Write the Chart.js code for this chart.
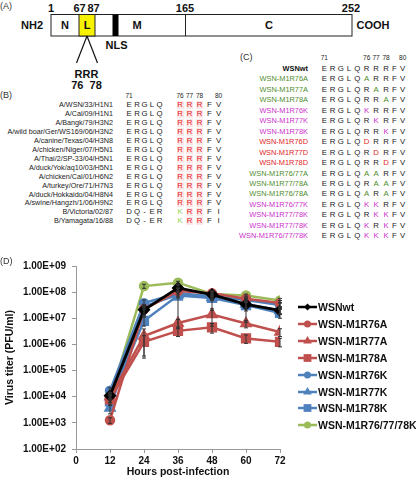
<!DOCTYPE html>
<html>
<head>
<meta charset="utf-8">
<script src="https://cdn.jsdelivr.net/npm/chart.js@4.4.1/dist/chart.umd.min.js"></script>
<style>
body { margin: 0; background: #fff; font-family: "Liberation Sans", Arial, sans-serif; }
#fig { position: relative; width: 416px; height: 478px; overflow: hidden; background: #fff; }
.t { position: absolute; white-space: pre; line-height: 12px; color: #111; }
#chartBox { position: absolute; left: 0; top: 248px; width: 416px; height: 230px; }
#diag { position: absolute; left: 0; top: 0; }
</style>
</head>
<body>
<div id="fig">
  <svg id="diag" width="416" height="100"></svg>
  <div id="chartBox"><canvas id="titer" width="416" height="230"></canvas></div>
</div>
<script>
// ---- panel B: M1 sequences of natural strains (residues 71-80)
const strainNames = ['A/WSN/33/H1N1', 'A/Cal/09/H1N1', 'A/Bangk/79/H3N2', 'A/wild boar/Ger/WS169/06/H3N2',
  'A/canine/Texas/04/H3N8', 'A/chicken/Niger/07/H5N1', 'A/Thai/2/SP-33/04/H5N1', 'A/duck/Yok/aq10/03/H5N1',
  'A/chicken/Cal/01/H6N2', 'A/turkey/Ore/71/H7N3', 'A/duck/Hokkaido/04/H8N4', 'A/swine/Hangzh/1/06/H9N2',
  'B/Victoria/02/87', 'B/Yamagata/16/88'];
const strainSeqs = ['ERGLQRRRFV', 'ERGLQRRRFV', 'ERGLQRRRFV', 'ERGLQRRRFV', 'ERGLQRRRFV', 'ERGLQRRRFV',
  'ERGLQRRRFV', 'ERGLQRRRFV', 'ERGLQRRRFV', 'ERGLQRRRFV', 'ERGLQRRRFV', 'ERGLQRRRFV', 'DQ-ERKRRFI', 'DQ-ERKRRFI'];

// ---- panel C: mutant viruses
const mutantNames = ['WSNwt', 'WSN-M1R76A', 'WSN-M1R77A', 'WSN-M1R78A', 'WSN-M1R76K', 'WSN-M1R77K', 'WSN-M1R78K',
  'WSN-M1R76D', 'WSN-M1R77D', 'WSN-M1R78D', 'WSN-M1R76/77A', 'WSN-M1R77/78A', 'WSN-M1R76/78A',
  'WSN-M1R76/77K', 'WSN-M1R77/78K', 'WSN-M1R77/78K', 'WSN-M1R76/77/78K'];
const mutantSeqs = ['ERGLQRRRFV', 'ERGLQARRFV', 'ERGLQRARFV', 'ERGLQRRAFV', 'ERGLQKRRFV', 'ERGLQRKRFV', 'ERGLQRRKFV',
  'ERGLQDRRFV', 'ERGLQRDRFV', 'ERGLQRRDFV', 'ERGLQAARFV', 'ERGLQRAAFV', 'ERGLQARAFV',
  'ERGLQKKRFV', 'ERGLQRKKFV', 'ERGLQKRKFV', 'ERGLQKKKFV'];

// ---- panel D: growth kinetics (PFU/ml)
const hours = [12, 24, 36, 48, 60, 72];
const seriesNames = ['WSNwt', 'WSN-M1R76A', 'WSN-M1R77A', 'WSN-M1R78A', 'WSN-M1R76K', 'WSN-M1R77K', 'WSN-M1R78K', 'WSN-M1R76/77/78K'];
const wsnWt   = [1.1e4, 2.1e7, 1.45e8, 8.1e7, 3.4e7, 2.0e7];
const r76a    = [1.26e3, 2.2e7, 1.1e8, 9.0e7, 5.6e7, 3.8e7];
const r77a    = [1.0e4, 2.1e6, 6.6e6, 1.4e7, 6.3e6, 3.0e6];
const r78a    = [8.0e3, 1.26e6, 3.3e6, 4.5e6, 1.7e6, 1.26e6];
const r76k    = [1.7e4, 3.8e7, 9.0e7, 7.0e7, 5.0e7, 3.2e7];
const r77k    = [3.7e3, 2.8e7, 8.0e7, 6.3e7, 3.5e7, 2.0e7];
const r78k    = [6.6e3, 8.0e6, 7.4e7, 6.0e7, 3.2e7, 1.6e7];
const r767778k = [9.0e3, 1.7e8, 2.3e8, 8.5e7, 7.4e7, 4.8e7];
// standard deviations
const wsnWtSd   = [3e3, 8e6, 4e7, 3e7, 1.5e7, 6e6];
const r76aSd    = [3e2, 1e7, 3e7, 2e7, 1.5e7, 1e7];
const r77aSd    = [4e3, 1.8e6, 2.4e6, 9e6, 2e6, 1e6];
const r78aSd    = [2e3, 9e5, 1.3e6, 1.8e6, 6e5, 4.5e5];
const r76kSd    = [5e3, 1.2e7, 2e7, 1.5e7, 1e7, 8e6];
const r77kSd    = [1.5e3, 6e6, 2e7, 1.5e7, 1e7, 5e6];
const r78kSd    = [2e3, 3e6, 7e7, 4e7, 2.5e7, 6e6];
const r767778kSd = [2e3, 3e7, 3e7, 2e7, 1e7, 1e7];
const yTickExps = [2, 3, 4, 5, 6, 7, 8, 9];

const titers = [wsnWt, r76a, r77a, r78a, r76k, r77k, r78k, r767778k];
const titerSds = [wsnWtSd, r76aSd, r77aSd, r78aSd, r76kSd, r77kSd, r78kSd, r767778kSd];

const red = '#c0504d', blue = '#4f81bd', green = '#9bbb59';
const lineColors = ['#000000', red, red, red, blue, blue, blue, green];
const shapes = ['rectRot', 'circle', 'triangle', 'rect', 'circle', 'triangle', 'rect', 'circle'];
const radii = { rectRot: 4.5, circle: 4, triangle: 5, rect: 5.5 };

const fig = document.getElementById('fig');
function txt(s, x, y, o) {
  o = o || {};
  const d = document.createElement('div');
  d.className = 't';
  d.textContent = s;
  d.style.left = x + 'px';
  d.style.top = y + 'px';
  d.style.fontSize = (o.size || 8) + 'px';
  if (o.bold) d.style.fontWeight = 'bold';
  if (o.color) d.style.color = o.color;
  const ax = o.align === 'r' ? '-100%' : (o.align === 'l' ? '0' : '-50%');
  d.style.transform = 'translate(' + ax + ',-50%)';
  fig.appendChild(d);
  return d;
}

// ---- panel A: domain diagram
const svg = document.getElementById('diag');
svg.innerHTML =
  '<rect x="51" y="14.5" width="301" height="21.5" fill="#fff" stroke="#222" stroke-width="1"/>' +
  '<rect x="79" y="14.5" width="16" height="21.5" fill="#f6f200" stroke="#222" stroke-width="1"/>' +
  '<rect x="112.5" y="14.5" width="6" height="21.5" fill="#000"/>' +
  '<line x1="185.5" y1="14.5" x2="185.5" y2="36" stroke="#222"/>' +
  '<line x1="87" y1="36" x2="76.5" y2="63" stroke="#111" stroke-width="1.2"/>' +
  '<line x1="87" y1="36" x2="97.5" y2="63" stroke="#111" stroke-width="1.2"/>';
txt('(A)', 0, 6, { size: 9, align: 'l', color: '#333' });
txt('1', 51, 8, { size: 11, bold: true });
txt('67', 79.5, 8, { size: 11, bold: true });
txt('87', 93.5, 8, { size: 11, bold: true });
txt('165', 185, 8, { size: 11, bold: true });
txt('252', 351, 8, { size: 11, bold: true });
txt('NH2', 32, 25, { size: 11, bold: true });
txt('N', 65, 25, { size: 11, bold: true });
txt('L', 87, 25, { size: 11, bold: true });
txt('M', 137, 25, { size: 11, bold: true });
txt('C', 269, 25, { size: 11, bold: true });
txt('COOH', 373, 25, { size: 11, bold: true });
txt('NLS', 116.5, 45, { size: 11, bold: true });
txt('RRR', 86.5, 74, { size: 11, bold: true });
txt('76  78', 86.5, 85, { size: 11, bold: true });

// ---- panel B
const bCols = [129, 137, 144.5, 152, 159.5, 180, 189.5, 199.5, 209.5, 218.5];
txt('(B)', 0, 95, { size: 9, align: 'l', color: '#333' });
txt('71', bCols[0], 96, { size: 6.5, color: '#222' });
txt('76', bCols[5], 96, { size: 6.5, color: '#222' });
txt('77', bCols[6], 96, { size: 6.5, color: '#222' });
txt('78', bCols[7], 96, { size: 6.5, color: '#222' });
txt('80', bCols[9], 96, { size: 6.5, color: '#222' });
strainNames.forEach((n, i) => {
  const y = 105 + i * 8.95;
  txt(n, 113, y, { size: 7.2, align: 'r', color: '#1a1a1a' });
  strainSeqs[i].split('').forEach((c, j) => {
    let col = '#222';
    if (j >= 5 && j <= 7) {
      if (c === 'R') {
        col = '#e3171c';
        const bg = document.createElement('div');
        bg.style.cssText = 'position:absolute;background:#fde8e8;width:7px;height:8px;left:' +
          (bCols[j] - 3.5) + 'px;top:' + (y - 4) + 'px;';
        fig.appendChild(bg);
      } else if (c === 'K') col = '#8fd14f';
    }
    txt(c, bCols[j], y, { size: 7.8, color: col });
  });
});

// ---- panel C
const cCols = [324.3, 332.5, 340.8, 349, 357.3, 366.7, 376, 386, 394.3, 402.7];
txt('(C)', 240, 57, { size: 9, align: 'l', color: '#333' });
txt('71', cCols[0], 58, { size: 6.5, color: '#222' });
txt('76', cCols[5], 58, { size: 6.5, color: '#222' });
txt('77', cCols[6], 58, { size: 6.5, color: '#222' });
txt('78', cCols[7], 58, { size: 6.5, color: '#222' });
txt('80', cCols[9], 58, { size: 6.5, color: '#222' });
function mutColor(n) {
  if (/D$/.test(n)) return '#e02424';
  if (/A$/.test(n)) return '#4f8d2c';
  if (/K$/.test(n)) return '#cc2fcc';
  return '#111';
}
mutantNames.forEach((n, i) => {
  const y = 69 + i * 10.45;
  const nc = mutColor(n);
  txt(n, 308, y, { size: 7.4, align: 'r', color: nc, bold: i === 0 });
  mutantSeqs[i].split('').forEach((c, j) => {
    const col = c !== mutantSeqs[0][j] ? nc : '#222';
    txt(c, cCols[j], y, { size: 7.8, color: col });
  });
});

// ---- panel D
txt('(D)', 0, 261, { size: 9, align: 'l', color: '#333' });

// legend (line + marker + label)
function markerSvg(shape, color, cx, cy) {
  const r = radii[shape];
  if (shape === 'circle') return '<circle cx="' + cx + '" cy="' + cy + '" r="' + (r - 0.5) + '" fill="' + color + '"/>';
  if (shape === 'rect') { const s = r * Math.SQRT1_2; return '<rect x="' + (cx - s) + '" y="' + (cy - s) + '" width="' + 2 * s + '" height="' + 2 * s + '" fill="' + color + '"/>'; }
  if (shape === 'triangle') return '<polygon points="' + cx + ',' + (cy - r) + ' ' + (cx + r * 0.87) + ',' + (cy + r / 2) + ' ' + (cx - r * 0.87) + ',' + (cy + r / 2) + '" fill="' + color + '"/>';
  return '<polygon points="' + cx + ',' + (cy - r + 1) + ' ' + (cx + r - 1) + ',' + cy + ' ' + cx + ',' + (cy + r - 1) + ' ' + (cx - r + 1) + ',' + cy + '" fill="' + color + '"/>';
}
seriesNames.forEach((n, i) => {
  const y = 307 + i * 16.9;
  const s = document.createElementNS('http://www.w3.org/2000/svg', 'svg');
  s.setAttribute('width', '22');
  s.setAttribute('height', '12');
  s.style.cssText = 'position:absolute;left:297px;top:' + (y - 6) + 'px;';
  s.innerHTML = '<line x1="1" y1="6" x2="20" y2="6" stroke="' + lineColors[i] + '" stroke-width="2.5"/>' +
    markerSvg(shapes[i], lineColors[i], 10.5, 6);
  fig.appendChild(s);
  txt(n, 318, y, { size: 10.5, bold: true, align: 'l', color: '#111' });
});

// error bars drawn through the chart scales
const errorBars = {
  id: 'errorBars',
  afterDatasetsDraw(chart) {
    const { ctx, scales: { x, y } } = chart;
    ctx.save();
    ctx.strokeStyle = '#333';
    ctx.lineWidth = 1;
    titers.forEach((vals, i) => {
      vals.forEach((v, j) => {
        const sd = titerSds[i][j];
        const px = x.getPixelForValue(hours[j]);
        const top = y.getPixelForValue(v + sd);
        const lo = v - sd > 100 ? v - sd : 100;
        const bot = y.getPixelForValue(lo);
        ctx.beginPath();
        ctx.moveTo(px, top); ctx.lineTo(px, bot);
        ctx.moveTo(px - 2, top); ctx.lineTo(px + 2, top);
        if (v - sd > 100) { ctx.moveTo(px - 2, bot); ctx.lineTo(px + 2, bot); }
        ctx.stroke();
      });
    });
    ctx.restore();
  }
};

const tickFont = { family: '"Liberation Sans", Arial, sans-serif', size: 10, weight: 'bold' };
const titleFont = { family: '"Liberation Sans", Arial, sans-serif', size: 10.5, weight: 'bold' };

new Chart(document.getElementById('titer').getContext('2d'), {
  type: 'line',
  data: {
    datasets: seriesNames.map((n, i) => ({
      label: n,
      data: hours.map((h, j) => ({ x: h, y: titers[i][j] })),
      borderColor: lineColors[i],
      backgroundColor: lineColors[i],
      pointBackgroundColor: lineColors[i],
      pointBorderColor: lineColors[i],
      pointStyle: shapes[i],
      pointRadius: radii[shapes[i]],
      borderWidth: i === 0 ? 2.8 : 2.5,
      tension: 0
    }))
  },
  options: {
    responsive: false,
    animation: false,
    layout: { padding: { top: 18, right: 136, left: 0, bottom: 0 } },
    plugins: { legend: { display: false }, tooltip: { enabled: false } },
    scales: {
      x: {
        type: 'linear', min: 0, max: 72,
        ticks: { stepSize: 12, color: '#111', font: tickFont, padding: 2, maxRotation: 0 },
        grid: { drawOnChartArea: false, tickLength: 4, color: '#999' },
        border: { color: '#999' },
        title: { display: true, text: 'Hours post-infection', color: '#111', font: titleFont, padding: { top: 0, bottom: 0 } },
        afterFit: s => { s.height = 29; }
      },
      y: {
        type: 'logarithmic', min: 100, max: 1e9,
        afterBuildTicks: s => { s.ticks = yTickExps.map(e => ({ value: Math.pow(10, e) })); },
        ticks: {
          color: '#111', font: tickFont, padding: 6,
          callback: v => '1.00E+' + String(Math.round(Math.log10(v))).padStart(2, '0')
        },
        grid: { drawOnChartArea: false, tickLength: 4, color: '#999' },
        border: { color: '#999' },
        title: { display: true, text: 'Virus titer (PFU/ml)', color: '#111', font: titleFont, padding: { top: 4, bottom: 0 } },
        afterFit: s => { s.width = 76; }
      }
    }
  },
  plugins: [errorBars]
});
</script>
</body>
</html>
